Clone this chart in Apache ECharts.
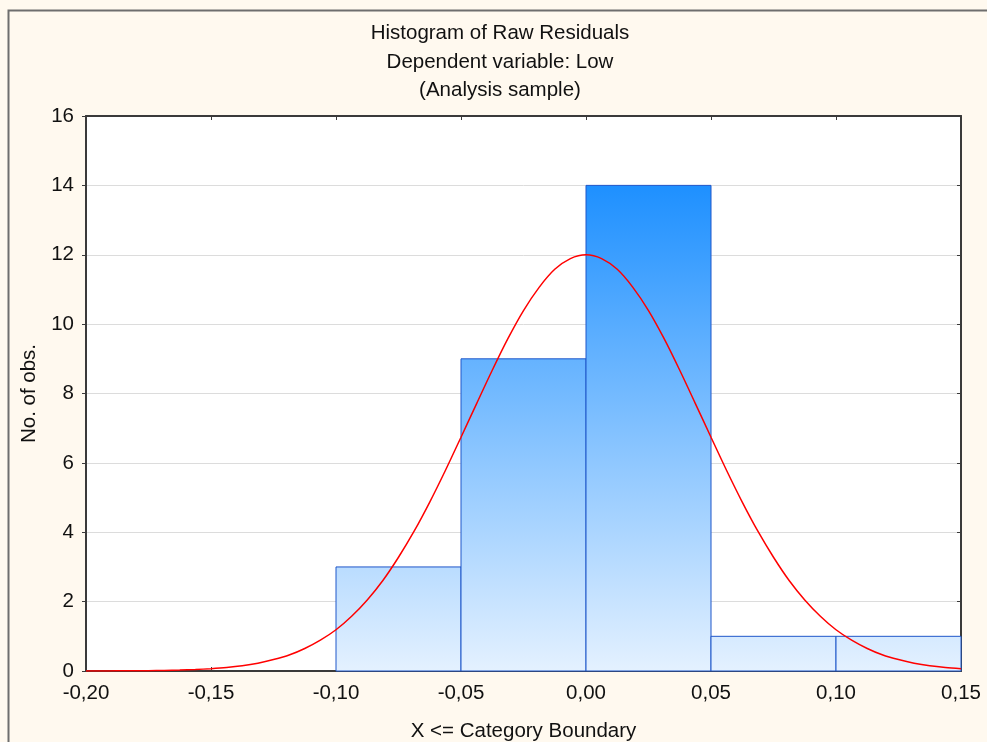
<!DOCTYPE html>
<html>
<head>
<meta charset="utf-8">
<script src="https://cdn.jsdelivr.net/npm/echarts@6/dist/echarts.min.js"></script>
<style>
  html, body { margin: 0; padding: 0; background: #FFF9EF; }
  #chart { width: 987px; height: 742px; }
</style>
</head>
<body>
<div id="chart"></div>
<script>
// Histogram bins (lower edge, upper edge) and counts
const binLower = [-0.10, -0.05, 0.00, 0.05, 0.10];
const binUpper = [-0.05, 0.00, 0.05, 0.10, 0.15];
const binCounts = [3, 9, 14, 1, 1];

// Fitted normal curve, sampled along the x range
const curveX = [
  -0.2, -0.19375, -0.1875, -0.18125, -0.175, -0.16875, -0.1625, -0.15625,
  -0.15, -0.14375, -0.1375, -0.13125, -0.125, -0.11875, -0.1125, -0.10625,
  -0.1, -0.09375, -0.0875, -0.08125, -0.075, -0.06875, -0.0625, -0.05625,
  -0.05, -0.04375, -0.0375, -0.03125, -0.025, -0.01875, -0.0125, -0.00625,
  0,
  0.00625, 0.0125, 0.01875, 0.025, 0.03125, 0.0375, 0.04375, 0.05,
  0.05625, 0.0625, 0.06875, 0.075, 0.08125, 0.0875, 0.09375, 0.1,
  0.10625, 0.1125, 0.11875, 0.125, 0.13125, 0.1375, 0.14375, 0.15
];
const curveY = [
  0.001, 0.002, 0.004, 0.006, 0.01, 0.017, 0.027, 0.043,
  0.067, 0.10, 0.15, 0.225, 0.33, 0.46, 0.65, 0.89,
  1.19, 1.58, 2.05, 2.61, 3.28, 4.03, 4.87, 5.78,
  6.74, 7.71, 8.67, 9.58, 10.39, 11.06, 11.58, 11.89,
  12.0,
  11.89, 11.58, 11.06, 10.39, 9.58, 8.67, 7.71, 6.74,
  5.78, 4.87, 4.03, 3.28, 2.61, 2.05, 1.58, 1.19,
  0.89, 0.65, 0.46, 0.33, 0.225, 0.15, 0.10, 0.067
];

const titleLines = ['Histogram of Raw Residuals', 'Dependent variable: Low', '(Analysis sample)'];
const xTitle = 'X <= Category Boundary';
const yTitle = 'No. of obs.';

const FONT = 'Liberation Sans, Arial, sans-serif';
const FS = 20.5;
const chart = echarts.init(document.getElementById('chart'), null, { renderer: 'canvas' });

const barData = binLower.map((lo, i) => [lo, binUpper[i], binCounts[i]]);
const curveData = curveX.map((x, i) => [x, curveY[i]]);
const fmtX = v => v.toFixed(2).replace('.', ',');

const axisLine = { show: true, onZero: false, lineStyle: { color: '#3a3a3a', width: 2 } };
const tick = inside => ({ show: true, inside: inside, length: 4, lineStyle: { color: '#3a3a3a', width: 1 } });

chart.setOption({
  backgroundColor: '#FFF9EF',
  animation: false,
  title: titleLines.map((t, i) => ({
    text: t,
    left: 500,
    top: 23 + i * 28.5,
    padding: 0,
    textAlign: 'center',
    textStyle: { fontFamily: FONT, fontSize: FS, fontWeight: 'normal', color: '#111' }
  })),
  grid: {
    left: 86, right: 26, top: 116, bottom: 71,
    outerBoundsMode: 'none', containLabel: false,
    show: true, backgroundColor: '#ffffff', borderWidth: 0
  },
  xAxis: [{
    type: 'value', position: 'bottom', min: -0.2, max: 0.15, interval: 0.05,
    name: xTitle, nameLocation: 'middle', nameGap: 50,
    nameTextStyle: { fontFamily: FONT, fontSize: FS, color: '#111' },
    axisLine: axisLine,
    axisTick: tick(true),
    axisLabel: { formatter: fmtX, fontFamily: FONT, fontSize: FS, color: '#111', margin: 12 },
    splitLine: { show: false }
  }, {
    type: 'value', position: 'top', min: -0.2, max: 0.15, interval: 0.05,
    axisLine: axisLine,
    axisTick: tick(true),
    axisLabel: { show: false },
    splitLine: { show: false }
  }],
  yAxis: [{
    type: 'value', position: 'left', min: 0, max: 16, interval: 2,
    name: yTitle, nameLocation: 'middle', nameGap: 46, nameRotate: 90,
    nameTextStyle: { fontFamily: FONT, fontSize: FS, color: '#111' },
    axisLine: axisLine,
    axisTick: tick(false),
    axisLabel: { fontFamily: FONT, fontSize: FS, color: '#111', margin: 12 },
    splitLine: { show: true, lineStyle: { color: '#dcdcdc', width: 1 } }
  }, {
    type: 'value', position: 'right', min: 0, max: 16, interval: 2,
    axisLine: axisLine,
    axisTick: tick(true),
    axisLabel: { show: false },
    splitLine: { show: false }
  }],
  graphic: [{
    type: 'polyline',
    shape: { points: [[8.5, 742], [8.5, 10.5], [987, 10.5]] },
    style: { stroke: '#6e6e6e', lineWidth: 2, fill: null },
    silent: true
  }],
  series: [{
    type: 'custom',
    xAxisIndex: 0, yAxisIndex: 0,
    data: barData,
    encode: { x: [0, 1], y: 2 },
    renderItem: function (params, api) {
      const p0 = api.coord([api.value(0), api.value(2)]);
      const p1 = api.coord([api.value(1), 0]);
      const gTop = api.coord([0, 14])[1];
      const gBot = api.coord([0, 0])[1];
      return {
        type: 'rect',
        shape: { x: p0[0], y: p0[1], width: p1[0] - p0[0], height: p1[1] - p0[1] },
        style: {
          fill: new echarts.graphic.LinearGradient(0, gTop, 0, gBot, [
            { offset: 0, color: '#1E90FF' },
            { offset: 1, color: '#E4F1FF' }
          ], true),
          stroke: '#1f56c9',
          lineWidth: 1
        }
      };
    },
    z: 2
  }, {
    type: 'line',
    xAxisIndex: 0, yAxisIndex: 0,
    data: curveData,
    smooth: 0.3,
    showSymbol: false,
    lineStyle: { color: '#ff0000', width: 1.5 },
    z: 3
  }]
});
</script>
</body>
</html>
